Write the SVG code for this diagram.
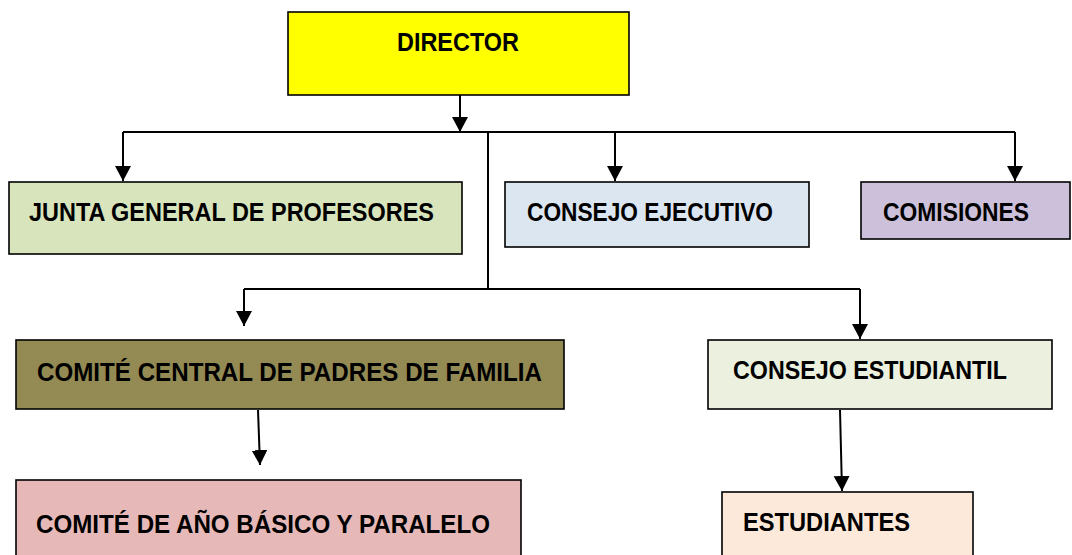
<svg xmlns="http://www.w3.org/2000/svg" width="1072" height="555" viewBox="0 0 1072 555">
<style>
.box{stroke:#000;stroke-width:1.6}
.lbl{font-family:"Liberation Sans",Arial,sans-serif;font-weight:bold;font-size:26px;fill:#000}
.ln{fill:none;stroke:#000;stroke-width:2}
</style>
<defs>
<marker id="ah" markerUnits="userSpaceOnUse" markerWidth="16" markerHeight="17" refX="15" refY="8" orient="auto">
<path d="M0,0 L15,8 L0,16 Z" fill="#000"/>
</marker>
</defs>
<rect width="1072" height="555" fill="#fff"/>
<g id="connectors">
<line class="ln" x1="460" y1="95" x2="460" y2="132" marker-end="url(#ah)"/>
<line class="ln" x1="123" y1="132" x2="1015" y2="132"/>
<line class="ln" x1="123" y1="132" x2="123" y2="181" marker-end="url(#ah)"/>
<line class="ln" x1="615" y1="132" x2="615" y2="181" marker-end="url(#ah)"/>
<line class="ln" x1="1015" y1="132" x2="1015" y2="181" marker-end="url(#ah)"/>
<line class="ln" x1="488" y1="132" x2="488" y2="289"/>
<line class="ln" x1="244" y1="289" x2="860" y2="289"/>
<line class="ln" x1="244" y1="289" x2="244" y2="326" marker-end="url(#ah)"/>
<line class="ln" x1="860" y1="289" x2="860" y2="339" marker-end="url(#ah)"/>
<line class="ln" x1="258" y1="410" x2="260" y2="465" marker-end="url(#ah)"/>
<line class="ln" x1="840" y1="410" x2="842" y2="491" marker-end="url(#ah)"/>
</g>
<g id="director">
<rect class="box" x="288" y="12" width="341" height="83" fill="#FFFF00"/>
<text class="lbl" x="397" y="51" textLength="122" lengthAdjust="spacingAndGlyphs">DIRECTOR</text>
</g>
<g id="junta">
<rect class="box" x="9" y="182" width="453" height="72" fill="#D8E4BC"/>
<text class="lbl" x="29" y="221" textLength="405" lengthAdjust="spacingAndGlyphs">JUNTA GENERAL DE PROFESORES</text>
</g>
<g id="consejo-ejecutivo">
<rect class="box" x="505" y="182" width="304" height="65" fill="#DCE6F1"/>
<text class="lbl" x="527" y="221" textLength="246" lengthAdjust="spacingAndGlyphs">CONSEJO EJECUTIVO</text>
</g>
<g id="comisiones">
<rect class="box" x="861" y="182" width="209" height="57" fill="#CCC0DA"/>
<text class="lbl" x="883" y="221" textLength="146" lengthAdjust="spacingAndGlyphs">COMISIONES</text>
</g>
<g id="comite-central">
<rect class="box" x="16" y="340" width="548" height="69" fill="#948A54"/>
<text class="lbl" x="37" y="381" textLength="505" lengthAdjust="spacingAndGlyphs">COMITÉ CENTRAL DE PADRES DE FAMILIA</text>
</g>
<g id="consejo-estudiantil">
<rect class="box" x="708" y="340" width="344" height="69" fill="#EBF1DE"/>
<text class="lbl" x="733" y="379" textLength="274" lengthAdjust="spacingAndGlyphs">CONSEJO ESTUDIANTIL</text>
</g>
<g id="comite-ano">
<rect class="box" x="16" y="480" width="505" height="85" fill="#E6B9B8"/>
<text class="lbl" x="36" y="533" textLength="454" lengthAdjust="spacingAndGlyphs">COMITÉ DE AÑO BÁSICO Y PARALELO</text>
</g>
<g id="estudiantes">
<rect class="box" x="722" y="492" width="251" height="73" fill="#FDE9D9"/>
<text class="lbl" x="743" y="531" textLength="167" lengthAdjust="spacingAndGlyphs">ESTUDIANTES</text>
</g>
</svg>
